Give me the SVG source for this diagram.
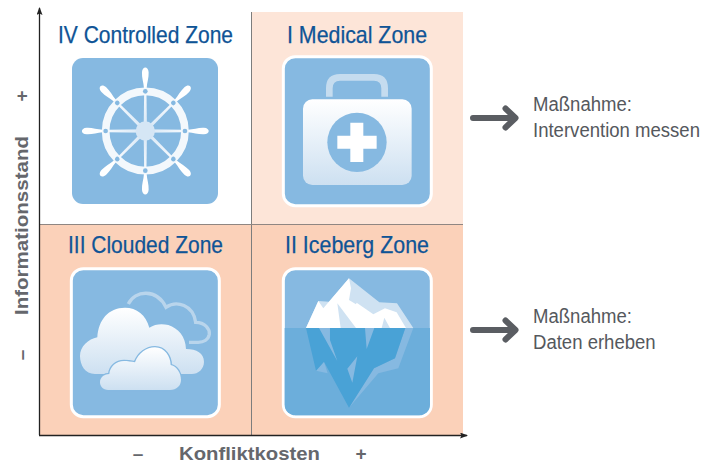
<svg xmlns="http://www.w3.org/2000/svg" width="702" height="464" viewBox="0 0 702 464">
<style>
.t{font-family:"Liberation Sans",Arial,sans-serif;font-size:24px;fill:#0F5496;stroke:#0F5496;stroke-width:.25}
.m{font-family:"Liberation Sans",Arial,sans-serif;font-size:21px;fill:#55585D}
.a{font-family:"Liberation Sans",Arial,sans-serif;font-size:19px;font-weight:700;fill:#65676C}
.box{fill:#86B9E1;stroke:#fff;stroke-width:9}
.ar{fill:none;stroke:#5A5D62;stroke-width:6;stroke-linecap:round;stroke-linejoin:round}
</style>
<defs>
<linearGradient id="g" x1="0" y1="0" x2="0" y2="1"><stop offset="0" stop-color="#fff"/><stop offset="1" stop-color="#CDE0F1"/></linearGradient>
<radialGradient id="r" gradientUnits="userSpaceOnUse" cx="0" cy="0" r="130"><stop offset="0" stop-color="#D5E6F5"/><stop offset=".8" stop-color="#F2F7FC"/><stop offset="1" stop-color="#fff"/></radialGradient>
<marker id="h" markerWidth="8" markerHeight="6" refX="7" refY="3" orient="auto" markerUnits="userSpaceOnUse"><path d="M0 0L8 3L0 6L1.500 3Z" fill="#222"/></marker>
<g id="spoke"><path d="M-5 0L-3.500 -112L3.500 -112L5 0Z" fill="url(#r)"/><path d="M-4 -128C-5 -145 -11 -160 -10 -176C-9 -195 9 -195 10 -176C11 -160 5 -145 4 -128Z" fill="#fff"/></g>
<circle id="dot" cx="0" cy="-119" r="7" fill="#86B9E1"/>
</defs>
<g id="quadrants">
<rect x="251" y="12" width="212" height="212" fill="#FDE5D8"/>
<rect x="40" y="224" width="423" height="211" fill="#FBD1B9"/>
<path d="M251.500 12V435" stroke="#7D7D7D" stroke-width="1" fill="none"/>
<path d="M40 224.500H463" stroke="#8F8682" stroke-width="1" fill="none"/>
</g>
<g id="connectors">
<path d="M39.500 435V8" stroke="#222" stroke-width="1.300" fill="none" marker-end="url(#h)"/>
<path d="M39 435.500H467" stroke="#222" stroke-width="1.300" fill="none" marker-end="url(#h)"/>
<g id="arrow-top"><path class="ar" d="M473 118H515M505.500 108.500L515.500 118L505.500 127.500"/></g>
<g id="arrow-bottom"><path class="ar" d="M473 330H515M505.500 320.500L515.500 330L505.500 339.500"/></g>
</g>
<g id="zone-iv">
<text class="t" x="58" y="43" textLength="175" lengthAdjust="spacingAndGlyphs">IV Controlled Zone</text>
<rect x="72" y="58" width="146" height="146" rx="11" fill="#86B9E1"/>
<g transform="translate(145.300 131) scale(.3333)">
<use href="#spoke"/>
<use href="#spoke" transform="rotate(45)"/>
<use href="#spoke" transform="rotate(90)"/>
<use href="#spoke" transform="rotate(135)"/>
<use href="#spoke" transform="rotate(180)"/>
<use href="#spoke" transform="rotate(225)"/>
<use href="#spoke" transform="rotate(270)"/>
<use href="#spoke" transform="rotate(315)"/>
<circle r="119" fill="none" stroke="#F3F8FC" stroke-width="23"/>
<circle r="29" fill="#D5E6F5"/>
<use href="#dot"/>
<use href="#dot" transform="rotate(45)"/>
<use href="#dot" transform="rotate(90)"/>
<use href="#dot" transform="rotate(135)"/>
<use href="#dot" transform="rotate(180)"/>
<use href="#dot" transform="rotate(225)"/>
<use href="#dot" transform="rotate(270)"/>
<use href="#dot" transform="rotate(315)"/>
</g>
</g>
<g id="zone-i">
<text class="t" x="287" y="43" textLength="140" lengthAdjust="spacingAndGlyphs">I Medical Zone</text>
<g transform="translate(250 0) scale(.3333)">
<rect class="box" x="100" y="170" width="444" height="447" rx="36"/>
<path d="M238 290V265C238 242 250 232 270 232H372C392 232 404 242 404 265V290" fill="none" stroke="#C5DCEF" stroke-width="20"/>
<rect x="159" y="298" width="326" height="257" rx="28" fill="url(#g)"/>
<circle cx="321" cy="427" r="89" fill="#86B9E1"/>
<path d="M301 368H340V407H380V446H340V486H301V446H262V407H301Z" fill="#fff"/>
</g>
</g>
<g id="zone-iii">
<text class="t" x="68" y="253" textLength="155" lengthAdjust="spacingAndGlyphs">III Clouded Zone</text>
<g transform="translate(40 225) scale(.3333)">
<rect class="box" x="94" y="131" width="444" height="444" rx="36"/>
<path d="M265 237C285 195 350 190 378 247C410 225 460 240 467 292C495 292 510 312 508 328C505 345 490 352 475 352H447" fill="none" stroke="#B9D5EC" stroke-width="10"/>
<path d="M165 447C135 447 120 420 120 393C120 365 145 342 172 337C175 285 205 248 255 248C290 248 318 270 328 308C345 297 365 295 385 300C415 310 437 335 438 372C470 372 492 385 492 410C492 432 475 447 455 447Z" fill="url(#g)"/>
<path d="M205 495C188 495 180 483 180 472C180 455 195 447 208 447C210 425 228 408 252 408C262 408 275 410 285 412C295 385 320 367 345 367C375 367 392 395 392 420C412 425 423 445 423 465C423 482 410 495 390 495Z" fill="url(#g)" stroke="#86B9E1" stroke-width="8" paint-order="stroke"/>
</g>
</g>
<g id="zone-ii">
<text class="t" x="285" y="253" textLength="144" lengthAdjust="spacingAndGlyphs">II Iceberg Zone</text>
<g transform="translate(250 225) scale(.3333)">
<rect class="box" x="100" y="131" width="444" height="444" rx="36"/>
<path d="M104 309H540V539A32 32 0 0 1 508 571H136A32 32 0 0 1 104 539Z" fill="#6CAEDB"/>
<path d="M198 437L222 410L233 445Z" fill="#86B9E1"/>
<path d="M466 309H490L445 430L385 445L297 548L372 430L435 400Z" fill="#86B9E1"/>
<path d="M168 309H466L435 400L372 430L297 548L222 410L198 437Z" fill="#49A2D6"/>
<path d="M207 309H240V345L262 408ZM345 309H373L350 372ZM322 394L307 473L292 431Z" fill="#86B9E1"/>
<path d="M297 160L388 232L441 235L490 309H168L205 228L237 230Z" fill="#CFE2F2"/>
<path d="M168 309L205 228L220 250L297 160L303 190L297 225L318 238L320 233L370 268L405 250L440 262L468 309H420L403 278L395 309H318L262 235L272 309Z" fill="#fff"/>
</g>
</g>
<g id="action-top">
<text class="m" transform="translate(533 111) scale(.884 1)">Maßnahme:</text>
<text class="m" transform="translate(533 137) scale(.884 1)">Intervention messen</text>
</g>
<g id="action-bottom">
<text class="m" transform="translate(533 323) scale(.884 1)">Maßnahme:</text>
<text class="m" transform="translate(533 349) scale(.884 1)">Daten erheben</text>
</g>
<g id="axis-labels">
<text class="a" x="179" y="460" textLength="141" lengthAdjust="spacingAndGlyphs">Konfliktkosten</text>
<text class="a" x="138" y="460" text-anchor="middle">–</text>
<text class="a" x="361" y="460" text-anchor="middle">+</text>
<text class="a" transform="translate(28 315) rotate(-90)" textLength="179" lengthAdjust="spacingAndGlyphs">Informationsstand</text>
<text class="a" transform="translate(28 96) rotate(-90)" text-anchor="middle">+</text>
<text class="a" transform="translate(28 355) rotate(-90)" text-anchor="middle">–</text>
</g>
</svg>
